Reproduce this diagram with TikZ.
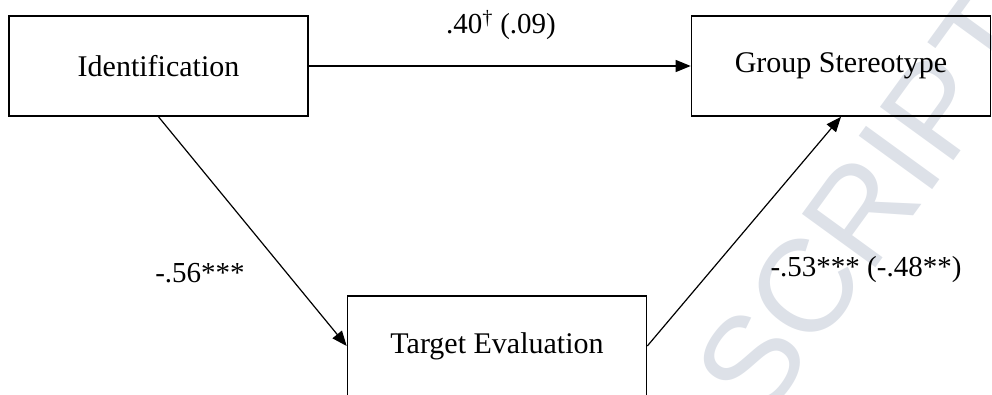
\documentclass[tikz,border=0pt]{standalone}
\usepackage{fontspec}
\setmainfont{Liberation Serif}
\setsansfont{Liberation Sans}
\usepackage{tikz}
\usetikzlibrary{arrows.meta,positioning}
\definecolor{wmark}{RGB}{221,225,232}
\tikzset{var/.style={draw=black, line width=1.6pt, minimum width=299pt, minimum height=100pt, inner sep=0, font=\fontsize{30}{36}\selectfont},
  pth/.style={line width=1.2pt, -{Triangle[length=15pt,width=12pt]}},
  lbl/.style={inner sep=0, font=\fontsize{29}{34}\selectfont}}

\begin{document}
\begin{tikzpicture}[x=1pt,y=-1pt]
    \useasboundingbox (0,0) rectangle (992,394);

    % watermark
    \node[rotate=54, anchor=base west, inner sep=0, text=wmark, font=\sffamily\fontsize{132}{132}\selectfont] (wm) at (762,425) {SCRIPT};

    \node[var] (ident) at (158.5,66) {Identification};
    \node[var] (stereo) at (841,66) {Group Stereotype};
    \node[var] (target) at (497,346) {Target Evaluation};

    \draw[pth] (ident.east) -- (stereo.west);
    \draw[pth] (ident.south) -- (target.west);
    \draw[pth] (target.east) -- (stereo.south);

    \node[lbl] (c) at (501,25) {.40\textsuperscript{\textdagger} (.09)};
    \node[lbl] (a) at (200,273) {-.56***};
    \node[lbl] (b) at (866,270) {-.53*** (-.48**)};

  \end{tikzpicture}
\end{document}
